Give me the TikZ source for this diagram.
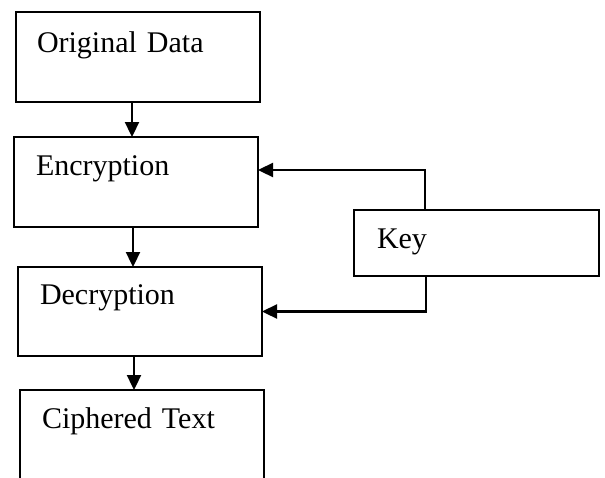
\documentclass[tikz,border=0pt]{standalone}
\usepackage{fontspec}
\setmainfont{Liberation Serif}
\usetikzlibrary{arrows.meta}
\begin{document}
\begin{tikzpicture}[x=1pt,y=-1pt,
  box/.style={draw, line width=1.7pt, anchor=north west, align=left,
    inner ysep=0pt, outer sep=0pt, font=\fontsize{30}{36}\selectfont},
  arr/.style={line width=2.3pt, -{Triangle[length=15pt,width=14pt]}}]
\useasboundingbox (0,0) rectangle (605,477);
\clip (0,0) rectangle (605,477);
\node[box, inner xsep=21pt, text width=202pt, text height=40pt, text depth=50pt] (orig) at (16,12) {Original Data};
\node[box, inner xsep=22pt, text width=200pt, text height=38pt, text depth=52pt] (enc) at (14,137) {Encryption};
\node[box, inner xsep=22pt, text width=200pt, text height=37pt, text depth=52pt] (dec) at (18,267) {Decryption};
\node[box, inner xsep=22pt, text width=200pt, text height=38pt, text depth=62pt] (ciph) at (20,390) {Ciphered Text};
\node[box, inner xsep=23pt, text width=199pt, text height=38pt, text depth=28pt] (key) at (354,210) {Key};
\draw[arr] ([xshift=-6pt]orig.south) -- ([xshift=-6pt]orig.south |- enc.north);
\draw[arr] ([xshift=-3pt]enc.south) -- ([xshift=-3pt]enc.south |- dec.north);
\draw[arr] ([xshift=-6pt]dec.south) -- ([xshift=-6pt]dec.south |- ciph.north);
\draw[arr] ([xshift=-51.5pt]key.north) |- ([yshift=12pt]enc.east);
\draw[arr] ([xshift=-50.5pt]key.south) |- (dec.east);
\end{tikzpicture}
\end{document}
